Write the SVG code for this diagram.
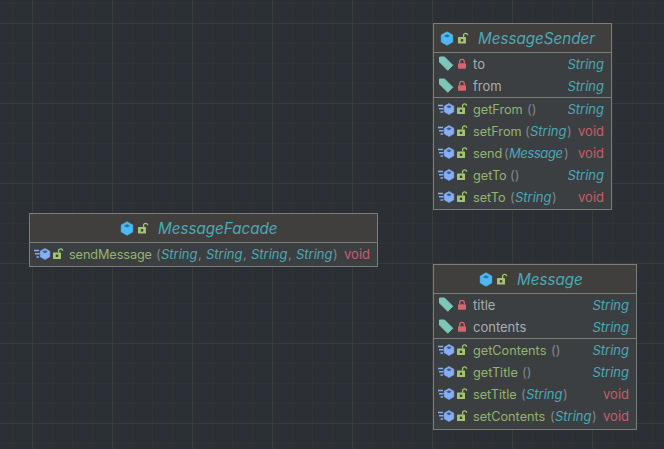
<svg xmlns="http://www.w3.org/2000/svg" xmlns:xlink="http://www.w3.org/1999/xlink" width="664" height="449" viewBox="0 0 664 449">
<style>
text{font-family:"Inter","Liberation Sans",sans-serif;font-size:13px}
.box{fill:#3c3f41;stroke:#7b7d7d;stroke-width:1}
.hd{fill:#403f3d}
.sep{stroke:#7b7d7d;stroke-width:1}
.title{font-size:15.2px;font-style:italic;fill:#4aa9b5}
.f{fill:#a9adb0}
.m{fill:#93b46f;font-size:12.7px}
.p{fill:#80858a}
.t{font-style:italic;fill:#4aa9b5}
.v{fill:#c75d68}
.gm{stroke:#333533;stroke-width:1}
.gM{stroke:#3b3c3a;stroke-width:1}
</style>
<defs>
<g id="cube"><path d="M0-6.8 5.8-3.4V3.4L0 6.8-5.8 3.4V-3.4Z" fill="#4cb8f5" stroke="#4cb8f5" stroke-width=".6" stroke-linejoin="round"/><path d="M-3.2-2.6 0-4.3 3.2-2.6 0-.9Z" fill="#2f6f96"/></g>
<g id="mcube"><path d="M0-5.5 4.8-2.8V2.8L0 5.5-4.8 2.8V-2.8Z" fill="#86aef5" stroke="#86aef5" stroke-width=".6" stroke-linejoin="round"/><path d="M-2.7-2.2 0-3.7 2.7-2.2 0-.8Z" fill="#3f5c90"/><path d="M-11-3.5H-6M-10-.3H-5.5M-8.5 3H-6" stroke="#86aef5" stroke-width="1.4" fill="none"/></g>
<g id="tag"><path d="M-6.5-6.5H-1.5L6.8 1.8 1.8 6.8-6.5-1.5Z" fill="#7cc7b8" stroke="#7cc7b8" stroke-width="1" stroke-linejoin="round"/></g>
<g id="priv"><rect x="-4" y="-.8" width="8" height="5.6" rx=".8" fill="#d9646e"/><path d="M-2.3-.8V-2.3A2.3 2.3 0 0 1 2.3-2.3V-.8" fill="none" stroke="#d9646e" stroke-width="1.3"/></g>
<g id="pub"><rect x="-5" y="-1.5" width="8" height="6.5" rx=".6" fill="#a3c572"/><rect x="-2.2" y=".6" width="2.4" height="2.4" fill="#3c3f41"/><path d="M.6-1.5V-3.2A2 2 0 0 1 4.6-3.2" fill="none" stroke="#a3c572" stroke-width="1.3"/></g>
</defs>
<rect width="664" height="449" fill="#2b2f36"/>
<g id="grid">
<path class="gm" d="M12.5 0V449M52.5 0V449M72.5 0V449M92.5 0V449M132.5 0V449M152.5 0V449M172.5 0V449M212.5 0V449M232.5 0V449M252.5 0V449M292.5 0V449M312.5 0V449M332.5 0V449M372.5 0V449M392.5 0V449M412.5 0V449M452.5 0V449M472.5 0V449M492.5 0V449M532.5 0V449M552.5 0V449M572.5 0V449M612.5 0V449M632.5 0V449M652.5 0V449M0 3.5H664M0 43.5H664M0 63.5H664M0 83.5H664M0 123.5H664M0 143.5H664M0 163.5H664M0 203.5H664M0 223.5H664M0 243.5H664M0 283.5H664M0 303.5H664M0 323.5H664M0 363.5H664M0 383.5H664M0 403.5H664M0 443.5H664"/>
<path class="gM" d="M32.5 0V449M112.5 0V449M192.5 0V449M272.5 0V449M352.5 0V449M432.5 0V449M512.5 0V449M592.5 0V449M0 23.5H664M0 103.5H664M0 183.5H664M0 263.5H664M0 343.5H664M0 423.5H664"/>
</g>
<g id="connectors"></g>
<g id="MessageSender">
<rect class="box" x="433.5" y="23.5" width="178" height="186"/>
<rect class="hd" x="434" y="24" width="177" height="28"/>
<path class="sep" d="M434 52.5H611M434 97.5H611"/>
<use href="#cube" x="447" y="38.5"/><use href="#pub" x="463" y="38.5"/>
<text class="title" x="478" y="44">MessageSender</text>
<use href="#tag" x="446" y="63.5"/><use href="#priv" x="462" y="64"/><text class="f" x="473" y="69">to</text><text class="t" x="604" y="69" text-anchor="end">String</text>
<use href="#tag" x="446" y="85.5"/><use href="#priv" x="462" y="86"/><text class="f" x="473" y="91">from</text><text class="t" x="604" y="91" text-anchor="end">String</text>
<use href="#mcube" x="449" y="109"/><use href="#pub" x="462" y="109"/><text class="m" x="473" y="114">getFrom</text><text class="p" x="527" y="114">()</text><text class="t" x="604" y="114" text-anchor="end">String</text>
<use href="#mcube" x="449" y="131"/><use href="#pub" x="462" y="131"/><text class="m" x="473" y="136">setFrom</text><text class="p" x="525" y="136">(</text><text class="t" x="530" y="136">String</text><text class="p" x="567" y="136">)</text><text class="v" x="604" y="136" text-anchor="end">void</text>
<use href="#mcube" x="449" y="153"/><use href="#pub" x="462" y="153"/><text class="m" x="473" y="158">send</text><text class="p" x="504" y="158">(</text><text class="t" x="509" y="158" textLength="54">Message</text><text class="p" x="564" y="158">)</text><text class="v" x="604" y="158" text-anchor="end">void</text>
<use href="#mcube" x="449" y="175"/><use href="#pub" x="462" y="175"/><text class="m" x="473" y="180">getTo</text><text class="p" x="510" y="180">()</text><text class="t" x="604" y="180" text-anchor="end">String</text>
<use href="#mcube" x="449" y="197"/><use href="#pub" x="462" y="197"/><text class="m" x="473" y="202">setTo</text><text class="p" x="510" y="202">(</text><text class="t" x="515" y="202">String</text><text class="p" x="552" y="202">)</text><text class="v" x="604" y="202" text-anchor="end">void</text>
</g>
<g id="MessageFacade">
<rect class="box" x="29.5" y="213.5" width="348" height="53"/>
<rect class="hd" x="30" y="214" width="347" height="28"/>
<path class="sep" d="M30 242.5H377"/>
<use href="#cube" x="127" y="228.5"/><use href="#pub" x="143" y="228.5"/>
<text class="title" x="158" y="234">MessageFacade</text>
<use href="#mcube" x="45" y="254"/><use href="#pub" x="58" y="254"/><text class="m" x="69" y="259" textLength="83">sendMessage</text><text class="p" x="156" y="259">(</text><text class="t" x="161" y="259">String</text><text class="p" x="198" y="259">,</text><text class="t" x="206" y="259">String</text><text class="p" x="243" y="259">,</text><text class="t" x="251" y="259">String</text><text class="p" x="288" y="259">,</text><text class="t" x="296" y="259">String</text><text class="p" x="333" y="259">)</text><text class="v" x="370" y="259" text-anchor="end">void</text>
</g>
<g id="Message">
<rect class="box" x="433.5" y="264.5" width="203" height="165"/>
<rect class="hd" x="434" y="265" width="202" height="28"/>
<path class="sep" d="M434 293.5H636M434 338.5H636"/>
<use href="#cube" x="486" y="279.5"/><use href="#pub" x="502" y="279.5"/>
<text class="title" x="517" y="285">Message</text>
<use href="#tag" x="446" y="304.5"/><use href="#priv" x="462" y="305"/><text class="f" x="473" y="310">title</text><text class="t" x="629" y="310" text-anchor="end">String</text>
<use href="#tag" x="446" y="326.5"/><use href="#priv" x="462" y="327"/><text class="f" x="473" y="332">contents</text><text class="t" x="629" y="332" text-anchor="end">String</text>
<use href="#mcube" x="449" y="350"/><use href="#pub" x="462" y="350"/><text class="m" x="473" y="355">getContents</text><text class="p" x="551" y="355">()</text><text class="t" x="629" y="355" text-anchor="end">String</text>
<use href="#mcube" x="449" y="372"/><use href="#pub" x="462" y="372"/><text class="m" x="473" y="377">getTitle</text><text class="p" x="522" y="377">()</text><text class="t" x="629" y="377" text-anchor="end">String</text>
<use href="#mcube" x="449" y="394"/><use href="#pub" x="462" y="394"/><text class="m" x="473" y="399">setTitle</text><text class="p" x="521" y="399">(</text><text class="t" x="526" y="399">String</text><text class="p" x="563" y="399">)</text><text class="v" x="629" y="399" text-anchor="end">void</text>
<use href="#mcube" x="449" y="416"/><use href="#pub" x="462" y="416"/><text class="m" x="473" y="421">setContents</text><text class="p" x="550" y="421">(</text><text class="t" x="555" y="421">String</text><text class="p" x="592" y="421">)</text><text class="v" x="629" y="421" text-anchor="end">void</text>
</g>
</svg>
